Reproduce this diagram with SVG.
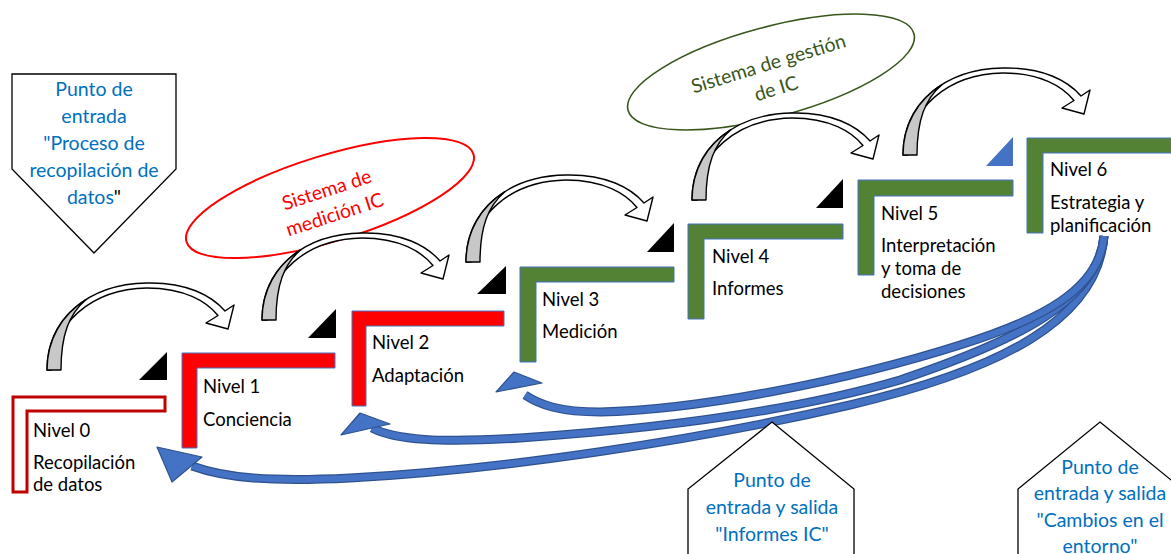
<svg xmlns="http://www.w3.org/2000/svg" width="1171" height="554" viewBox="0 0 1171 554">
<style>
.lbl{font-family:Lato,"Liberation Sans",sans-serif;font-size:18.5px;fill:#000}
.blu{font-family:Lato,"Liberation Sans",sans-serif;font-size:19.5px;fill:#0070C0;text-anchor:middle}
.red{fill:#FF0000;stroke:#4472C4;stroke-width:1}
.grn{fill:#548235;stroke:#4472C4;stroke-width:1}
.tri{fill:#000}
.pent{fill:#fff;stroke:#000;stroke-width:1.3}
.cw{fill:#fff;stroke:#000;stroke-width:1.4;stroke-linejoin:round}
.cg{fill:#C8C8C8;stroke:#000;stroke-width:1.4;stroke-linejoin:round}
.bo{fill:none;stroke:#2F528F;stroke-width:9;stroke-linecap:butt}
.bi{fill:none;stroke:#4472C4;stroke-width:6.5;stroke-linecap:butt}
.bh{fill:#4472C4;stroke:#2F528F;stroke-width:1.2;stroke-linejoin:round}
</style>
<defs>
<g id="curv">
<path class="cw" d="M0 0 C0 -50 40 -86 100 -87 C140 -88 165 -74 178 -59 L187 -65 L181 -41 L159 -47 L171 -54.5 C160 -68 138 -82 100 -82 C44 -81 5 -46 5 0 Z"/>
<path class="cg" d="M0 0 C0 -30 14.4 -55 38.9 -70.3 C22 -56 14 -35 14 0 Z"/>
</g>
</defs>
<rect width="1171" height="554" fill="#fff"/>

<g id="entry-top">
<polygon class="pent" points="12,74 176,74 176,169 94,253 12,169"/>
<text class="blu" x="94" y="96">Punto de</text>
<text class="blu" x="94" y="123">entrada</text>
<text class="blu" x="94" y="150">"Proceso de</text>
<text class="blu" x="94" y="177">recopilación de</text>
<text class="blu" x="94" y="204">datos<tspan fill="#000">"</tspan></text>
</g>

<g id="ellipse-medicion">
<ellipse cx="330" cy="198" rx="150" ry="43" transform="rotate(-17 330 198)" fill="none" stroke="#FF0000" stroke-width="2"/>
<g transform="rotate(-18 330 200)" font-family="Lato,'Liberation Sans',sans-serif" font-size="19.5" fill="#FF0000" text-anchor="middle">
<text x="330" y="196">Sistema de</text>
<text x="330" y="222">medición IC</text>
</g>
</g>

<g id="ellipse-gestion">
<ellipse cx="771" cy="72" rx="148" ry="45" transform="rotate(-15 771 72)" fill="none" stroke="#38561C" stroke-width="1.6"/>
<g transform="rotate(-17 771 72)" font-family="Lato,'Liberation Sans',sans-serif" font-size="19.5" fill="#38561C" text-anchor="middle">
<text x="771" y="70">Sistema de gestión</text>
<text x="771" y="96">de IC</text>
</g>
</g>

<g id="nivel0">
<polygon points="13,397 165,397 165,411 27,411 27,492 13,492" fill="#fff" stroke="#C00000" stroke-width="3"/>
<text class="lbl" x="33" y="437">Nivel 0</text>
<text class="lbl" x="33" y="469">Recopilación</text>
<text class="lbl" x="33" y="491">de datos</text>
</g>

<g id="nivel1">
<polygon class="tri" points="139,380 167,380 167,352"/>
<polygon class="red" points="182,353 335,353 335,368 197,368 197,448 182,448"/>
<text class="lbl" x="203" y="393">Nivel 1</text>
<text class="lbl" x="203" y="426">Conciencia</text>
</g>

<g id="nivel2">
<polygon class="tri" points="308,338 336,338 336,309"/>
<polygon class="red" points="352,311 504,311 504,326 366,326 366,406 352,406"/>
<text class="lbl" x="372" y="349">Nivel 2</text>
<text class="lbl" x="372" y="382">Adaptación</text>
</g>

<g id="nivel3">
<polygon class="tri" points="477,294 506,294 506,266"/>
<polygon class="grn" points="520,267 674,267 674,282 536,282 536,362 520,362"/>
<text class="lbl" x="542" y="306">Nivel 3</text>
<text class="lbl" x="542" y="338">Medición</text>
</g>

<g id="nivel4">
<polygon class="tri" points="647,252 674,252 674,223"/>
<polygon class="grn" points="688,224 843,224 843,239 704,239 704,319 688,319"/>
<text class="lbl" x="712" y="263">Nivel 4</text>
<text class="lbl" x="712" y="295">Informes</text>
</g>

<g id="nivel5">
<polygon class="tri" points="816,208 843,208 843,179"/>
<polygon class="grn" points="858,180 1013,180 1013,196 874,196 874,275 858,275"/>
<text class="lbl" x="881" y="220">Nivel 5</text>
<text class="lbl" x="881" y="252">Interpretación</text>
<text class="lbl" x="881" y="275">y toma de</text>
<text class="lbl" x="881" y="298">decisiones</text>
</g>

<g id="nivel6">
<polygon points="986,166 1013,166 1013,137" fill="#4472C4"/>
<polygon class="grn" points="1027,138 1180,138 1180,153 1043,153 1043,233 1027,233"/>
<text class="lbl" x="1050" y="176">Nivel 6</text>
<text class="lbl" x="1050" y="209">Estrategia y</text>
<text class="lbl" x="1050" y="232">planificación</text>
</g>

<g id="connectors">
<use href="#curv" x="47" y="370"/>
<use href="#curv" x="262" y="320"/>
<use href="#curv" x="466" y="262"/>
<use href="#curv" x="692" y="200"/>
<use href="#curv" x="903" y="155"/>
<path class="bo" d="M1104 236 C1098 320 1000 370 850 405 C700 440 500 470 350 478 C270 482 225 478 192 466"/>
<path class="bi" d="M1104 236 C1098 320 1000 370 850 405 C700 440 500 470 350 478 C270 482 225 478 192 466"/>
<polygon class="bh" points="157,447 202,457 172,482"/>
<path class="bo" d="M1104 236 C1098 300 1020 340 900 380 C780 415 640 430 520 438 C440 443 395 440 372 428"/>
<path class="bi" d="M1104 236 C1098 300 1020 340 900 380 C780 415 640 430 520 438 C440 443 395 440 372 428"/>
<polygon class="bh" points="341,435 360,413 390,424"/>
<path class="bo" d="M1104 236 C1100 290 1040 320 960 345 C850 380 700 410 600 412 C560 412 540 405 525 395"/>
<path class="bi" d="M1104 236 C1100 290 1040 320 960 345 C850 380 700 410 600 412 C560 412 540 405 525 395"/>
<polygon class="bh" points="496,392 514,372 542,383"/>
</g>

<g id="exit-informes">
<polygon class="pent" points="772,422 854,489 854,560 688,560 688,489"/>
<text class="blu" x="772" y="487">Punto de</text>
<text class="blu" x="772" y="514">entrada y salida</text>
<text class="blu" x="772" y="541">"Informes IC"</text>
</g>

<g id="exit-entorno">
<polygon class="pent" points="1100,422 1182,489 1182,560 1018,560 1018,489"/>
<text class="blu" x="1100" y="474">Punto de</text>
<text class="blu" x="1100" y="500">entrada y salida</text>
<text class="blu" x="1100" y="527">"Cambios en el</text>
<text class="blu" x="1100" y="553">entorno"</text>
</g>
</svg>
